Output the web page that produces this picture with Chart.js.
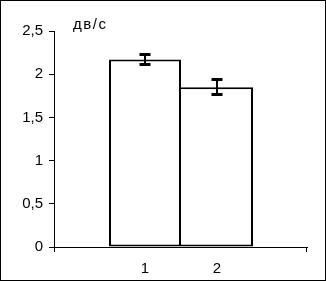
<!DOCTYPE html>
<html>
<head>
<meta charset="utf-8">
<script src="https://cdn.jsdelivr.net/npm/chart.js@4/dist/chart.umd.min.js"></script>
<style>
  html, body { margin: 0; padding: 0; background: #fff; }
  #wrap { width: 326px; height: 281px; }
</style>
</head>
<body>
<div id="wrap"><canvas id="chart" width="326" height="281"></canvas></div>
<script>
// данные с рисунка
const categories = [1, 2];
const values = [2.17, 1.85];
const errors = [0.065, 0.095];
const yTicks = [0, 0.5, 1, 1.5, 2, 2.5];
const unitLabel = 'дв/с';

const FONT = { family: '"Liberation Sans", Arial, sans-serif', size: 15 };

// рамка вокруг всей картинки, засечки по краям оси X, подпись единиц
const framePlugin = {
  id: 'frame',
  beforeDraw(chart) {
    const c = chart.ctx;
    c.save();
    c.fillStyle = '#fff';
    c.fillRect(0, 0, chart.width, chart.height);
    c.restore();
  },
  afterDraw(chart) {
    const c = chart.ctx;
    const a = chart.chartArea;
    c.save();
    c.strokeStyle = '#000';
    c.lineWidth = 1;
    c.strokeRect(0.5, 0.5, chart.width - 1, chart.height - 1);
    c.beginPath();
    c.moveTo(Math.round(a.left) + 0.5, a.bottom); c.lineTo(Math.round(a.left) + 0.5, a.bottom + 5);
    c.moveTo(Math.round(a.right) - 0.5, a.bottom); c.lineTo(Math.round(a.right) - 0.5, a.bottom + 5);
    c.stroke();
    c.fillStyle = '#000';
    c.font = '15px "Liberation Sans", Arial, sans-serif';
    c.letterSpacing = '1.5px';
    c.textBaseline = 'alphabetic';
    c.fillText(unitLabel, a.left + 19, a.top - 2);
    c.restore();
  }
};

// планки погрешностей
const errorBars = {
  id: 'errorBars',
  afterDatasetsDraw(chart) {
    const c = chart.ctx;
    const xs = chart.scales.x, ys = chart.scales.y;
    c.save();
    c.strokeStyle = '#000';
    categories.forEach((cat, i) => {
      const x = Math.round(xs.getPixelForValue(cat));
      const top = Math.round(ys.getPixelForValue(values[i] + errors[i]));
      const bot = Math.round(ys.getPixelForValue(values[i] - errors[i]));
      c.lineWidth = 2;
      c.beginPath();
      c.moveTo(x, top); c.lineTo(x, bot);
      c.stroke();
      c.lineWidth = 3;
      c.beginPath();
      c.moveTo(x - 5.5, top + 0.5); c.lineTo(x + 5.5, top + 0.5);
      c.moveTo(x - 5.5, bot - 0.5); c.lineTo(x + 5.5, bot - 0.5);
      c.stroke();
    });
    c.restore();
  }
};

new Chart(document.getElementById('chart'), {
  type: 'bar',
  data: {
    datasets: [{
      data: categories.map((c, i) => ({ x: c, y: values[i] })),
      backgroundColor: '#fff',
      borderColor: '#000',
      borderSkipped: false,
      inflateAmount: 0,
      borderWidth: ctx => ctx.dataIndex === 0
        ? { top: 2, left: 2, right: 2, bottom: 2 }
        : { top: 2, left: 0, right: 2, bottom: 2 },
      barPercentage: 1,
      categoryPercentage: 1
    }]
  },
  options: {
    responsive: false,
    animation: false,
    events: [],
    layout: { padding: { top: 31, right: 19, left: 0, bottom: 0 } },
    plugins: { legend: { display: false }, tooltip: { enabled: false } },
    scales: {
      x: {
        type: 'linear',
        offset: false,
        min: -0.2639,
        max: 3.25,
        afterBuildTicks: s => { s.ticks = categories.map(v => ({ value: v })); },
        afterFit: s => { s.height = 34; },
        border: { display: true, color: '#000', width: 1 },
        grid: { display: false, tickLength: 5 },
        ticks: {
          color: '#000',
          font: FONT,
          padding: 8,
          maxRotation: 0,
          autoSkip: false,
          callback: v => String(v)
        }
      },
      y: {
        min: 0,
        max: 2.5,
        afterBuildTicks: s => { s.ticks = yTicks.map(v => ({ value: v })); },
        afterFit: s => { s.width = 54; },
        border: { display: true, color: '#000', width: 1 },
        grid: { drawOnChartArea: false, tickLength: 5, color: '#000' },
        ticks: {
          color: '#000',
          font: FONT,
          padding: 6,
          callback: v => String(v).replace('.', ',')
        }
      }
    }
  },
  plugins: [framePlugin, errorBars]
});
</script>
</body>
</html>
